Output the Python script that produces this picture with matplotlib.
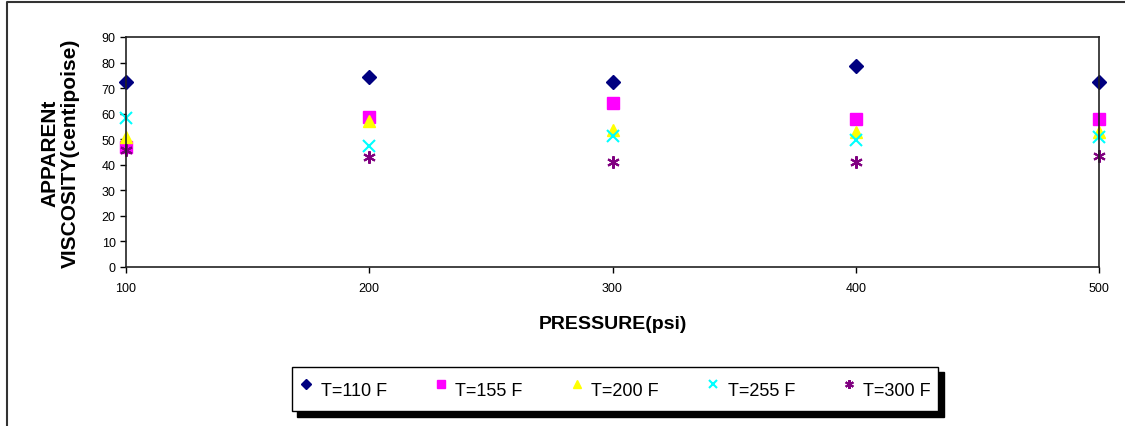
import matplotlib.pyplot as plt
from matplotlib.lines import Line2D

plt.rcParams['font.family'] = ['Liberation Sans', 'DejaVu Sans']

# data
pressure = [100, 200, 300, 400, 500]
visc_110 = [72.3, 74.5, 72.5, 78.5, 72.3]
visc_155 = [47.0, 58.6, 64.0, 57.9, 57.9]
visc_200 = [51.0, 57.0, 53.5, 52.9, 53.0]
visc_255 = [58.2, 47.5, 51.2, 49.7, 50.7]
visc_300 = [45.9, 42.9, 41.2, 41.2, 43.5]
labels = ["T=110 F", "T=155 F", "T=200 F", "T=255 F", "T=300 F"]

fig = plt.figure(figsize=(11.25, 4.27), dpi=100)
ax = fig.add_axes([126/1125, 1-268/427, (1099-126)/1125, (268-38)/427])

ax.plot(pressure, visc_110, ls='none', marker='D', ms=7, color='#000080', label=labels[0], clip_on=False)
ax.plot(pressure, visc_155, ls='none', marker='s', ms=9, color='#ff00ff', label=labels[1], clip_on=False)
ax.plot(pressure, visc_200, ls='none', marker='^', ms=9, color='#ffff00', label=labels[2], clip_on=False)
ax.plot(pressure, visc_255, ls='none', marker='x', ms=8, mew=1.5, color='#00ffff', label=labels[3], clip_on=False)
ax.plot(pressure, visc_300, ls='none', marker=(6, 2, 0), ms=9, mew=1.5, color='#800080', label=labels[4], clip_on=False)

ax.set_xlim(100, 500)
ax.set_ylim(0, 90)
ax.set_xticks(pressure)
ax.set_yticks(range(0, 91, 10))
ax.tick_params(axis='both', direction='out', length=4, width=1, labelsize=9, colors='black')
ax.tick_params(axis='x', pad=7)
for s in ax.spines.values():
    s.set_color('#222222')
    s.set_linewidth(1.2)

ax.set_xlabel("PRESSURE(psi)", fontsize=14, fontweight='bold', labelpad=15)
ax.set_ylabel("APPARENt\nVISCOSITY(centipoise)", fontsize=15, fontweight='bold', labelpad=16,
              linespacing=1.05)

leg = fig.legend(loc='center', bbox_to_anchor=(615/1125, 1-390/427), ncol=5,
                 fontsize=13, markerscale=0.7, handlelength=0.8, handleheight=2.2,
                 handletextpad=0.4, columnspacing=2.6, fancybox=False, edgecolor='black',
                 shadow={'color': 'black', 'alpha': 1, 'ox': 4, 'oy': -4}, borderpad=0.4,
                 borderaxespad=0)
leg.get_frame().set_linewidth(1.0)

# outer chart border (left and top edges visible)
fig.add_artist(Line2D([7/1125, 7/1125, 1.0], [0.0, 1-3/427, 1-3/427],
                      transform=fig.transFigure, color='#333333', lw=1.5))

fig.savefig('out.png', dpi=100)
